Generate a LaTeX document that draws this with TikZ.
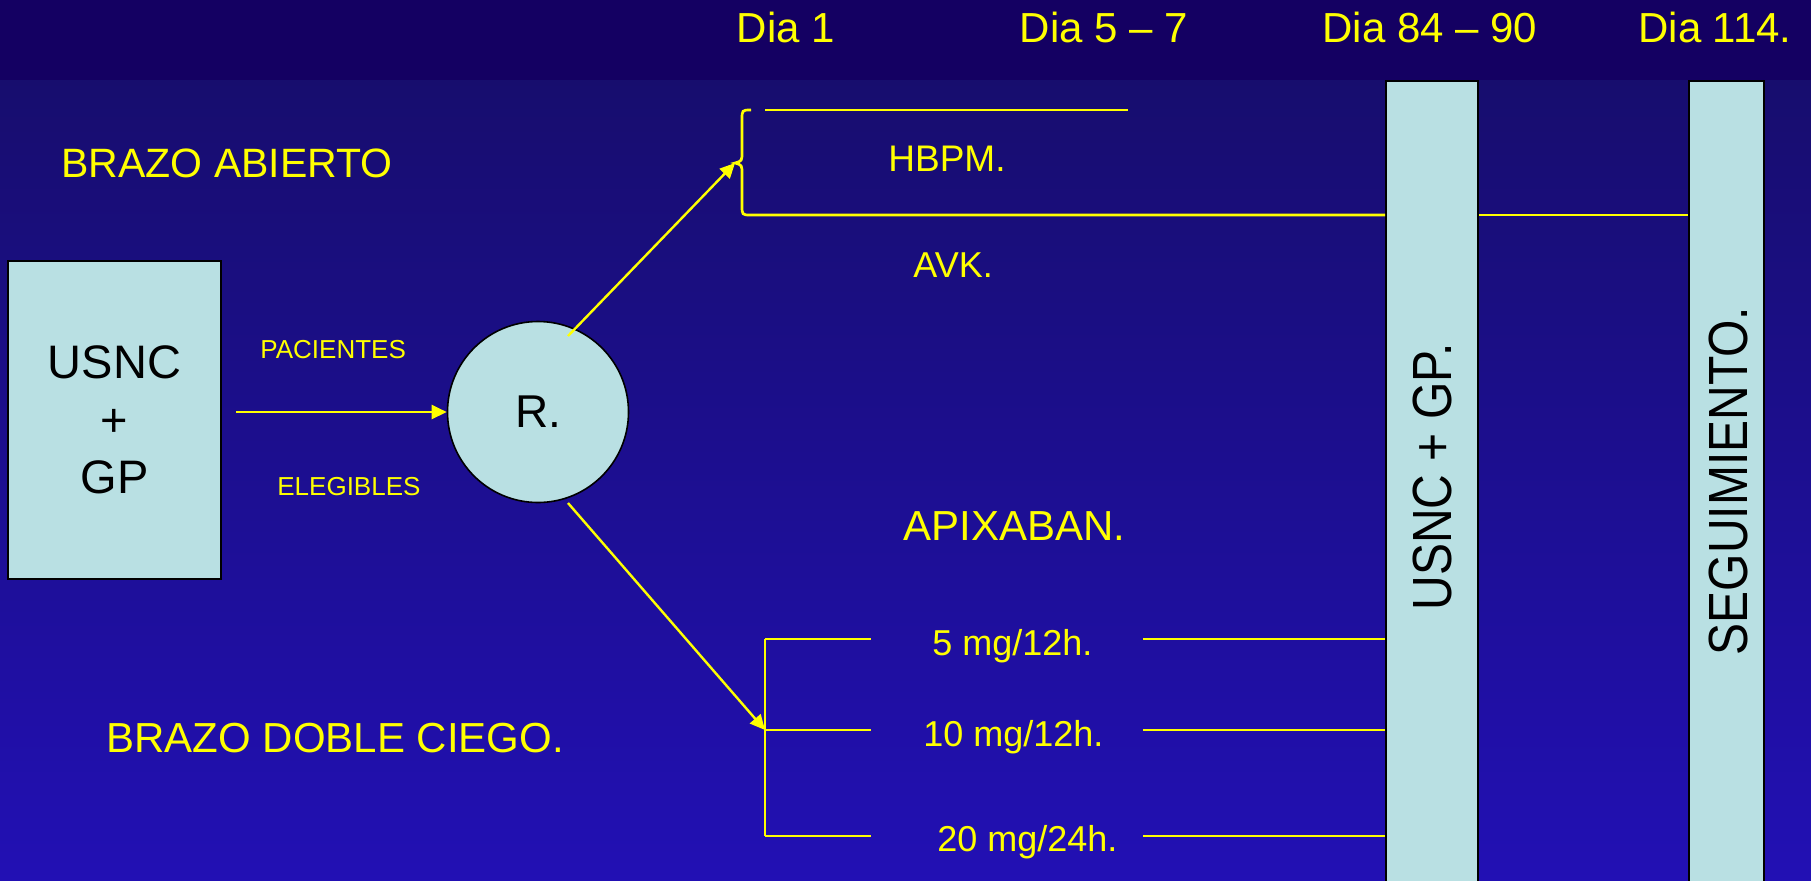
\documentclass[tikz,border=0pt]{standalone}
\usepackage{fontspec}
\setmainfont{Liberation Sans}
\usetikzlibrary{arrows.meta}
\definecolor{bandc}{RGB}{20,0,98}
\definecolor{topg}{RGB}{23,13,110}
\definecolor{botg}{RGB}{34,16,180}
\definecolor{boxc}{RGB}{185,224,227}
\definecolor{yel}{RGB}{255,255,0}
\tikzset{
  yt/.style={text=yel, inner sep=0pt},
  bt/.style={text=black, inner sep=0pt},
  yl/.style={draw=yel, line width=1.35pt},
  arr/.style={draw=yel, line width=1.2pt, -{Triangle[length=7.5pt,width=7pt]}},
  lbox/.style={draw=black, line width=1pt, fill=boxc, inner sep=0pt, align=center},
  barbox/.style={draw=black, line width=1pt, fill=boxc, inner sep=0pt},
  circ/.style={circle, draw=black, line width=0.8pt, fill=boxc, inner sep=0pt, minimum size=90.5pt},
}
\begin{document}
\begin{tikzpicture}[x=0.5pt,y=-0.5pt]
\useasboundingbox (0,0) rectangle (1811,880);
\clip (0,0) rectangle (1811,880);
\fill[bandc] (0,0) rectangle (1811,80);
\shade[top color=topg, bottom color=botg] (0,80) rectangle (1811,880);

% day labels
\node[yt, anchor=base] (d1) at (786,42) {\fontsize{21pt}{25pt}\selectfont Dia 1};
\node[yt, anchor=base] (d2) at (1104,42) {\fontsize{21pt}{25pt}\selectfont Dia 5 – 7};
\node[yt, anchor=base] (d3) at (1430,42) {\fontsize{21pt}{25pt}\selectfont Dia 84 – 90};
\node[yt, anchor=base] (d4) at (1715,42) {\fontsize{21pt}{25pt}\selectfont Dia 114.};

% arm labels
\node[yt, anchor=base west] (ba) at (61,177) {\fontsize{20.5pt}{25pt}\selectfont BRAZO ABIERTO};
\node[yt, anchor=base west] (bd) at (106,752) {\fontsize{21pt}{25pt}\selectfont BRAZO DOBLE CIEGO.};
\node[yt, anchor=base west] (ap) at (903,540) {\fontsize{21pt}{25pt}\selectfont APIXABAN.};
\node[yt, anchor=base west] (hb) at (888,171) {\fontsize{18.5pt}{22pt}\selectfont HBPM.};
\node[yt, anchor=base west] (av) at (913,277) {\fontsize{18pt}{22pt}\selectfont AVK.};
\node[yt, anchor=base west] (m1) at (932,655) {\fontsize{18pt}{22pt}\selectfont 5 mg/12h.};
\node[yt, anchor=base west] (m2) at (923,746) {\fontsize{18pt}{22pt}\selectfont 10 mg/12h.};
\node[yt, anchor=base west] (m3) at (937,851) {\fontsize{18pt}{22pt}\selectfont 20 mg/24h.};
\node[yt, anchor=base west] (pa) at (260,358) {\fontsize{13pt}{16pt}\selectfont PACIENTES};
\node[yt, anchor=base west] (el) at (277,495) {\fontsize{13pt}{16pt}\selectfont ELEGIBLES};

% source box and randomisation circle
\node[lbox, minimum width=106.5pt, minimum height=159pt,
      font=\fontsize{23.5pt}{28.75pt}\selectfont] (src) at (114.5,420)
  {USNC\\+\\GP};
\node[circ, font=\fontsize{23pt}{27pt}\selectfont] (R) at (538,412) {R.};

% bars
\node[barbox, minimum width=46pt, minimum height=420pt, anchor=north west] (b1) at (1385,80) {};
\node[barbox, minimum width=37.5pt, minimum height=420pt, anchor=north west] (b2) at (1688,80) {};
\node[bt, rotate=90] (t1) at (1432,477) {\fontsize{24pt}{28pt}\selectfont\scalebox{1}[1.15]{USNC + GP.}};
\node[bt, rotate=90] (t2) at (1728,481) {\fontsize{24pt}{28pt}\selectfont\scalebox{1}[1.15]{SEGUIMIENTO.}};

% coordinates
\coordinate (a0) at (236,412);
\coordinate (a1) at (568,336);
\coordinate (tip) at (735,163);
\coordinate (a2) at (568,503);
\coordinate (btop) at (751,110);
\coordinate (bbot) at (751,215);
\coordinate (ut1) at (765,110);
\coordinate (ut2) at (1128,110);
\coordinate (l1) at (765,639);
\coordinate (l2) at (765,730);
\coordinate (l3) at (765,836);
\coordinate (r1) at (1143,639);
\coordinate (r2) at (1143,730);
\coordinate (r3) at (1143,836);

% arrows
\draw[arr] (a0) -- (R.west);
\draw[arr] (a1) -- (tip);
\draw[arr] (a2) -- (l2);

% upper brace and lines
\draw[yl] (ut1) -- (ut2);
\draw[yl] (btop) .. controls (742,110) .. (742,120) -- (742,152)
  .. controls (742,161) .. (tip) .. controls (742,165) .. (742,174)
  -- (742,205) .. controls (742,215) .. (bbot) -- (bbot -| b1.west);
\draw[yl] (bbot -| b1.east) -- (bbot -| b2.west);

% lower bracket and lines
\draw[yl] (l1) -- (l3);
\draw[yl] (l1) -- ++(106,0);
\draw[yl] (l2) -- ++(106,0);
\draw[yl] (l3) -- ++(106,0);
\draw[yl] (r1) -- (r1 -| b1.west);
\draw[yl] (r2) -- (r2 -| b1.west);
\draw[yl] (r3) -- (r3 -| b1.west);
\end{tikzpicture}
\end{document}
